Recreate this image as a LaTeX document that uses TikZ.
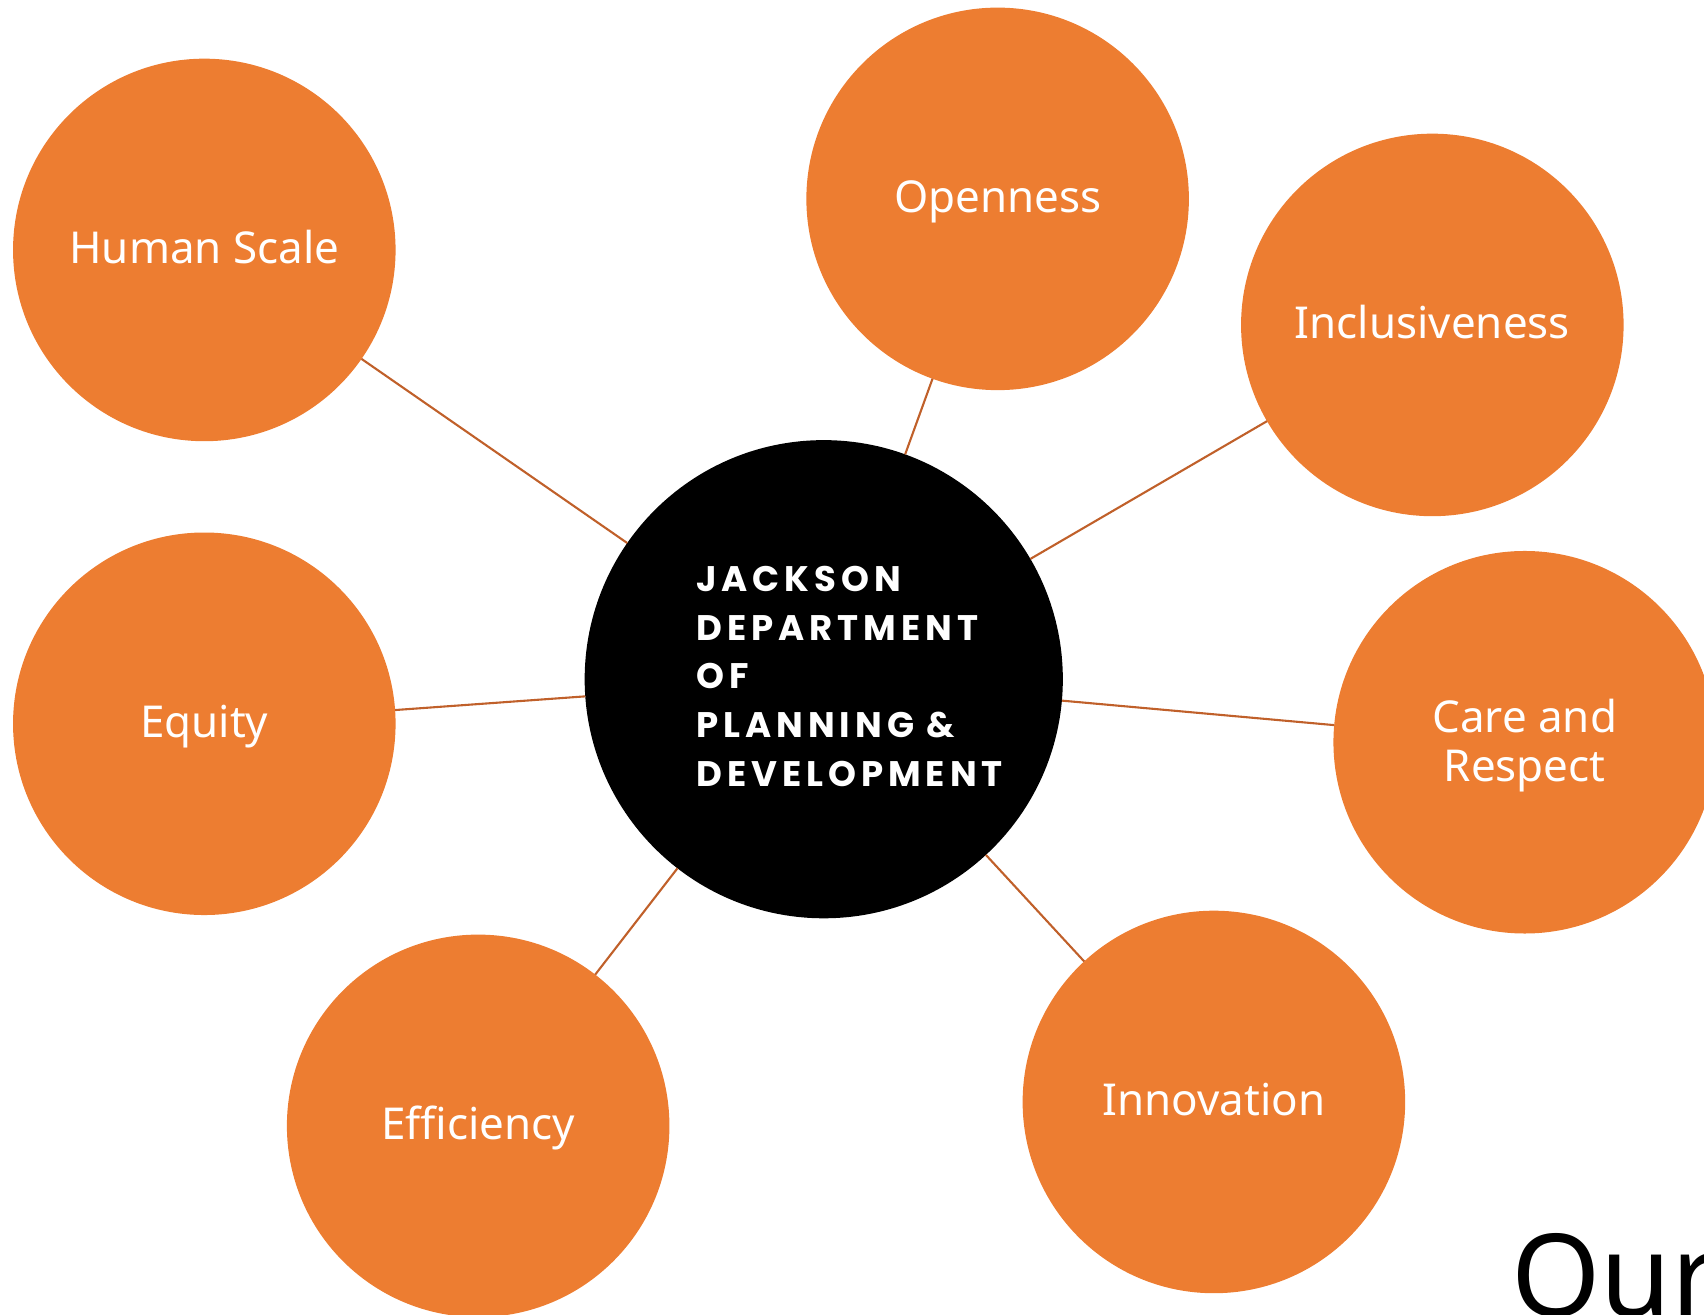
\documentclass[tikz,border=0pt]{standalone}
\usepackage{fontspec}
\setmainfont{Noto Sans}
\newfontfamily\hubfont{Poppins}[LetterSpace=14]
\definecolor{valueorange}{HTML}{ED7D31}
\definecolor{linkbrown}{HTML}{C0602A}

\begin{document}
\begin{tikzpicture}[
  value/.style={circle, fill=valueorange, minimum size=3.52cm, inner sep=0pt, outer sep=0pt,
    text=white, align=center, text height=0.97em, text depth=0.24em,
    font=\fontsize{11.5}{12.8}\selectfont},
  hub/.style={circle, fill=black, minimum size=4.4cm, inner sep=0pt, outer sep=0pt},
  link/.style={draw=linkbrown, line width=0.55pt}]
  \useasboundingbox (0,0) rectangle (15.68,-12.10);
  \clip (0,0) rectangle (15.68,-12.10);
  \node[hub] (hub) at (7.58,-6.25) {};
  \node[anchor=north west, inner sep=0pt, text=white, align=left,
    font=\hubfont\bfseries\fontsize{9.3}{12.8}\selectfont] (hubtext) at (6.40,-5.20)
    {JACKSON\\DEPARTMENT\\OF\\PLANNING \&\\DEVELOPMENT};
  \node[value] (human) at (1.88,-2.30) {Human Scale};
  \node[value] (open) at (9.18,-1.83) {Openness};
  \node[value] (incl) at (13.18,-2.99) {Inclusiveness};
  \node[value] (equity) at (1.88,-6.66) {Equity};
  \node[value, text height=, text depth=0.1em] (care) at (14.03,-6.83) {Care and\\Respect};
  \node[value] (effic) at (4.40,-10.36) {Efficiency};
  \node[value] (innov) at (11.17,-10.14) {Innovation};
  \node[anchor=base west, inner sep=0pt, font=\fontsize{30}{36}\selectfont] (our) at (13.90,-12.11) {Our};
  \draw[link] (hub) -- (human);
  \draw[link] (hub) -- (open);
  \draw[link] (hub) -- (incl);
  \draw[link] (hub) -- (equity);
  \draw[link] (hub) -- (care);
  \draw[link] (hub) -- (effic);
  \draw[link] (hub) -- (innov);
\end{tikzpicture}
\end{document}
